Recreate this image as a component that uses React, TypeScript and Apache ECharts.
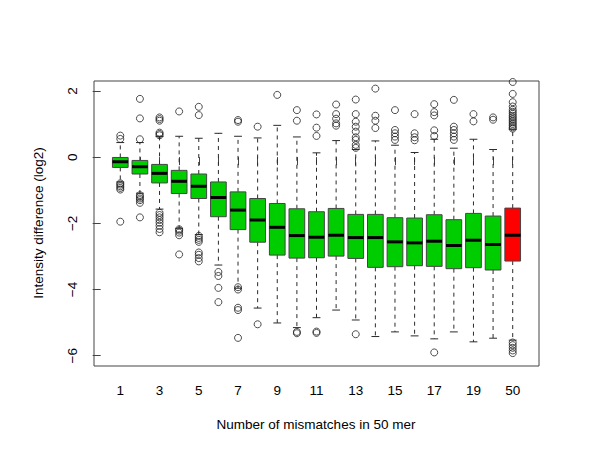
import React, { useEffect, useRef } from "react";
import * as echarts from "echarts";

const categories = ["1", "2", "3", "4", "5", "6", "7", "8", "9", "10", "11", "12", "13", "14", "15", "16", "17", "18", "19", "20", "50"];
const whiskerLow = [-0.75, -1.09, -1.57, -2.15, -2.34, -3.26, -3.96, -4.56, -5.01, -5.15, -4.85, -4.62, -4.92, -5.42, -5.28, -5.40, -5.49, -5.28, -5.58, -5.47, -5.53];
const q1 = [-0.31, -0.51, -0.78, -1.10, -1.25, -1.80, -2.19, -2.57, -2.96, -3.05, -3.04, -2.99, -3.06, -3.33, -3.31, -3.28, -3.30, -3.37, -3.34, -3.41, -3.14];
const medians = [-0.14, -0.29, -0.49, -0.73, -0.88, -1.22, -1.60, -1.90, -2.12, -2.37, -2.42, -2.36, -2.43, -2.43, -2.56, -2.59, -2.54, -2.67, -2.51, -2.64, -2.36];
const q3 = [-0.01, -0.10, -0.22, -0.40, -0.51, -0.75, -1.05, -1.25, -1.40, -1.56, -1.65, -1.55, -1.73, -1.73, -1.83, -1.84, -1.74, -1.89, -1.70, -1.78, -1.54];
const whiskerHigh = [0.44, 0.44, 0.62, 0.63, 0.57, 0.72, 0.63, 0.58, 0.96, 0.61, 0.13, 0.50, 0.23, 0.49, 0.36, 0.14, 0.54, 0.27, 0.54, 0.23, 0.84];
const outliers: number[][] = [
  [0.65, 0.55, -0.79, -0.83, -0.88, -0.93, -0.98, -1.95],
  [1.76, 1.17, 0.54, -1.15, -1.2, -1.25, -1.3, -1.38, -1.82],
  [1.2, 1.15, 1.1, 0.74, 0.7, 0.66, -1.68, -1.75, -1.82, -1.9, -1.98, -2.07, -2.17, -2.27],
  [1.38, -2.18, -2.22, -2.28, -2.36, -2.94],
  [1.52, 1.27, -2.38, -2.44, -2.5, -2.56, -2.88, -2.95, -3.05, -3.15],
  [-3.47, -3.59, -3.95, -4.38],
  [1.12, 1.07, -3.93, -4.0, -4.55, -4.62, -5.46],
  [0.92, -5.05],
  [1.88],
  [1.42, 1.1, -5.28, -5.32],
  [1.29, 0.89, 0.64, -5.27, -5.31],
  [1.59, 1.3, 1.16, 1.02, 0.95],
  [1.74, 1.3, 1.07, 0.92, 0.77, 0.6, 0.52, 0.37, 0.28, -5.35],
  [2.07, 1.25, 1.1, 0.88],
  [1.42, 0.82, 0.72, 0.62, 0.52],
  [1.3, 0.72, 0.6, 0.51],
  [1.6, 1.36, 1.26, 0.81, 0.64, -5.9],
  [1.73, 0.92, 0.82, 0.72, 0.62, 0.52],
  [1.3, 1.08],
  [1.2, 1.13],
  [2.27, 1.91, 1.66, 1.53, 1.43, 1.37, 1.31, 1.25, 1.2, 1.15, 1.1, 1.05, 1.0, 0.95, 0.9, 0.86, -5.6, -5.68, -5.76, -5.84, -5.92],
];
const yTicks = [-6, -4, -2, 0, 2];
const xTickPositions = categories.map((_, i) => i + 1);
const xLabelPositions = xTickPositions.filter((p) => p % 2 === 1);
const xTitle = "Number of mismatches in 50 mer";
const yTitle = "Intensity difference (log2)";

const FONT = "'Liberation Sans', Arial, Helvetica, sans-serif";
const GREEN = "#00cd00";
const RED = "#ff0000";
const LINE = "#2a2a2a";

export default function App() {
  const ref = useRef<HTMLDivElement>(null);
  useEffect(() => {
    document.body.style.margin = "0";
    const chart = echarts.init(ref.current!, null, { renderer: "svg" });
    const boxData = categories.map((_, i) => [i + 1, whiskerLow[i], q1[i], medians[i], q3[i], whiskerHigh[i]]);
    const outlierData: number[][] = [];
    outliers.forEach((arr, i) => arr.forEach((v) => outlierData.push([i + 1, v])));

    const option: any = {
      animation: false,
      backgroundColor: "#ffffff",
      grid: {
        left: 94,
        right: 61,
        top: 81,
        bottom: 98,
        show: true,
        borderColor: "#444",
        borderWidth: 1,
        backgroundColor: "transparent",
      },
      xAxis: {
        type: "value",
        min: -0.34,
        max: 22.34,
        axisLine: { show: false },
        splitLine: { show: false },
        axisTick: {
          show: true,
          customValues: xTickPositions,
          length: 8,
          lineStyle: { color: "#444" },
        },
        axisLabel: {
          customValues: xLabelPositions,
          formatter: (v: number) => categories[Math.round(v) - 1] ?? "",
          fontFamily: FONT,
          fontSize: 13.5,
          color: "#000",
          margin: 17,
        },
      },
      yAxis: {
        type: "value",
        min: -6.31,
        max: 2.3,
        axisLine: { show: false },
        splitLine: { show: false },
        axisTick: {
          show: true,
          customValues: yTicks,
          length: 8,
          lineStyle: { color: "#444" },
        },
        axisLabel: {
          customValues: yTicks,
          rotate: 90,
          formatter: (v: number) => String(v).replace("-", "\u2212"),
          fontFamily: FONT,
          fontSize: 13.5,
          color: "#000",
          margin: 15,
        },
      },
      graphic: [
        {
          type: "text",
          x: 316,
          y: 424,
          style: {
            text: xTitle,
            fontFamily: FONT,
            fontSize: 13.5,
            fill: "#000",
            textAlign: "center",
            textVerticalAlign: "middle",
          },
        },
        {
          type: "text",
          x: 38,
          y: 223,
          rotation: Math.PI / 2,
          style: {
            text: yTitle,
            fontFamily: FONT,
            fontSize: 13.5,
            fill: "#000",
            textAlign: "center",
            textVerticalAlign: "middle",
          },
        },
      ],
      series: [
        {
          type: "custom",
          data: boxData,
          encode: { x: 0, y: [1, 2, 3, 4, 5] },
          z: 2,
          renderItem: (params: any, api: any) => {
            const idx = params.dataIndex;
            const x = api.value(0);
            const lo = api.coord([x, api.value(1)]);
            const b1 = api.coord([x, api.value(2)]);
            const md = api.coord([x, api.value(3)]);
            const b3 = api.coord([x, api.value(4)]);
            const hi = api.coord([x, api.value(5)]);
            const w = api.size([0.8, 0])[0];
            const sw = w / 2;
            const cx = lo[0];
            const fill = categories[idx] === "50" ? RED : GREEN;
            return {
              type: "group",
              children: [
                {
                  type: "line",
                  shape: { x1: cx, y1: b1[1], x2: cx, y2: lo[1] },
                  style: { stroke: LINE, lineWidth: 1, lineDash: [4, 4] },
                },
                {
                  type: "line",
                  shape: { x1: cx, y1: b3[1], x2: cx, y2: hi[1] },
                  style: { stroke: LINE, lineWidth: 1, lineDash: [4, 4] },
                },
                {
                  type: "line",
                  shape: { x1: cx - sw / 2, y1: lo[1], x2: cx + sw / 2, y2: lo[1] },
                  style: { stroke: LINE, lineWidth: 1 },
                },
                {
                  type: "line",
                  shape: { x1: cx - sw / 2, y1: hi[1], x2: cx + sw / 2, y2: hi[1] },
                  style: { stroke: LINE, lineWidth: 1 },
                },
                {
                  type: "rect",
                  shape: { x: cx - w / 2, y: b3[1], width: w, height: b1[1] - b3[1] },
                  style: { fill, stroke: "#444", lineWidth: 1 },
                },
                {
                  type: "line",
                  shape: { x1: cx - w / 2, y1: md[1], x2: cx + w / 2, y2: md[1] },
                  style: { stroke: "#000", lineWidth: 3 },
                },
              ],
            };
          },
        },
        {
          type: "scatter",
          data: outlierData,
          symbol: "circle",
          symbolSize: 7,
          z: 3,
          itemStyle: { color: "rgba(0,0,0,0)", borderColor: "#222", borderWidth: 1 },
        },
      ],
    };
    chart.setOption(option);
    return () => chart.dispose();
  }, []);
  return <div ref={ref} style={{ width: 600, height: 464 }} />;
}
